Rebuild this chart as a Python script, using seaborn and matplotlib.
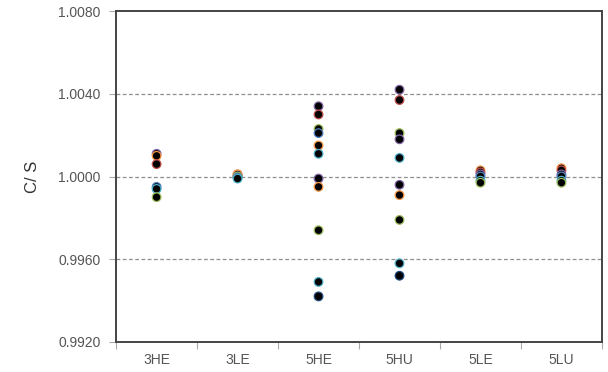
import matplotlib
matplotlib.use("Agg")
import matplotlib.pyplot as plt
from matplotlib.ticker import FixedLocator
import seaborn as sns
import pandas as pd

# Measured C/S ratios per configuration
categories = ["3HE", "3LE", "5HE", "5HU", "5LE", "5LU"]

group = (["3HE"] * 6 + ["3LE"] * 6 + ["5HE"] * 11 + ["5HU"] * 10
         + ["5LE"] * 6 + ["5LU"] * 6)
ratio = [
    1.0011, 1.0010, 1.0006, 0.9995, 0.9994, 0.9990,
    1.0001, 1.0001, 1.0000, 1.0000, 0.99995, 0.9999,
    1.0034, 1.0030, 1.0023, 1.0021, 1.0015, 1.0011, 0.9999, 0.9995, 0.9974, 0.9949, 0.9942,
    1.0042, 1.0037, 1.0021, 1.0018, 1.0009, 0.9996, 0.9991, 0.9979, 0.9958, 0.9952,
    1.0003, 1.0002, 1.0001, 1.0000, 0.9998, 0.9997,
    1.0004, 1.0003, 1.0001, 1.0000, 0.9998, 0.9997,
]
series = [
    "D", "F", "B", "E", "A", "C",
    "B", "F", "D", "C", "E", "A",
    "D", "B", "C", "E", "F", "A", "D", "F", "C", "A", "G",
    "D", "B", "C", "D", "A", "D", "F", "C", "A", "G",
    "F", "B", "D", "E", "A", "C",
    "F", "B", "D", "E", "A", "C",
]
y_ticks = [0.9920, 0.9960, 1.0000, 1.0040, 1.0080]

edge_colors = {
    "A": "#4BACC6", "B": "#C0504D", "C": "#9BBB59", "D": "#8064A2",
    "E": "#4F81BD", "F": "#F79646", "G": "#1F497D",
}

df = pd.DataFrame({"group": group, "ratio": ratio, "series": series})

sns.set_style("white")
plt.rcParams["font.family"] = ["Liberation Sans", "DejaVu Sans"]

fig = plt.figure(figsize=(6.08, 3.72), dpi=100)
ax = fig.add_axes([0.191, 0.081, 0.799, 0.889])

sns.stripplot(data=df, x="group", y="ratio", hue="series", order=categories,
              palette=edge_colors, jitter=False, size=6.2, linewidth=0.9,
              legend=False, ax=ax, zorder=3)

# black-filled markers with series-coloured rims
for coll in ax.collections:
    fc = coll.get_facecolors()
    if len(fc):
        coll.set_edgecolors(fc)
        coll.set_facecolors("black")

ax.set_xlim(-0.5, len(categories) - 0.5)
ax.set_ylim(y_ticks[0], y_ticks[-1])
ax.set_yticks(y_ticks)
ax.set_yticklabels([f"{t:.4f}" for t in y_ticks])

for t in y_ticks[1:-1]:
    ax.axhline(t, color="#8f8f8f", lw=0.9, ls=(0, (3, 2)), zorder=1)

ax.xaxis.set_minor_locator(FixedLocator([i - 0.5 for i in range(len(categories) + 1)]))
ax.tick_params(axis="x", which="major", length=0, pad=8, labelsize=10, labelcolor="#555555")
ax.tick_params(axis="x", which="minor", length=5, width=0.8, color="#aaaaaa", direction="out")
ax.tick_params(axis="y", length=5, width=0.8, color="#aaaaaa", direction="out",
               labelsize=10, labelcolor="#555555", pad=6)
ax.xaxis.set_tick_params(bottom=True, which="both")
ax.yaxis.set_tick_params(left=True)

for s in ax.spines.values():
    s.set_color("#444444")
    s.set_linewidth(1.4)

ax.set_xlabel("")
ax.set_ylabel("C/ S", fontsize=12, color="#333333", labelpad=13)

fig.savefig("out.png", dpi=100)
